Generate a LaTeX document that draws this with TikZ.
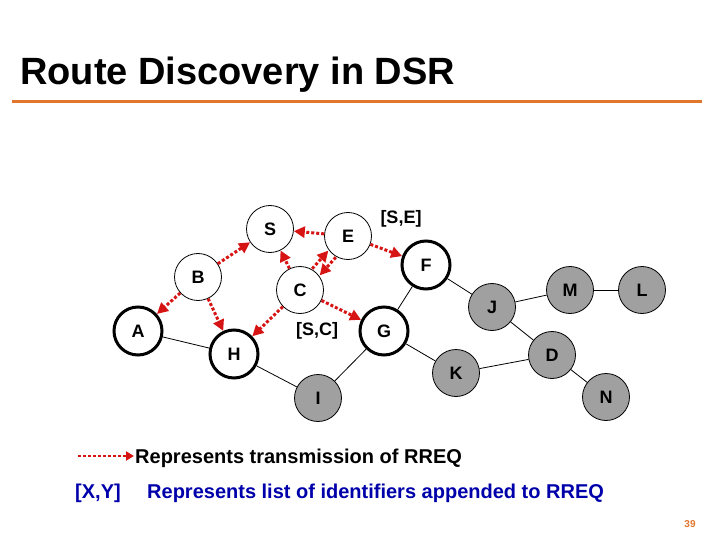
\documentclass[tikz,border=0pt]{standalone}
\usepackage{fontspec}
\setmainfont{Liberation Sans}
\usetikzlibrary{arrows.meta,calc}
\definecolor{reqred}{RGB}{215,20,20}
\definecolor{ruleorange}{RGB}{225,118,45}
\definecolor{legblue}{RGB}{0,0,170}
\definecolor{nodegrey}{RGB}{160,160,160}
\begin{document}
\begin{tikzpicture}[x=1pt,y=-1pt,
  plainnode/.style={circle,draw=black,line width=0.8pt,minimum size=47pt,inner sep=0pt,fill=white,
     font=\bfseries\fontsize{18}{18}\selectfont},
  boldnode/.style={plainnode,line width=3pt,minimum size=48pt},
  greynode/.style={plainnode,fill=nodegrey},
  link/.style={draw=black,line width=0.8pt},
  req/.style={draw=reqred,line width=3pt,dash pattern=on 3pt off 2pt,
     -{Triangle[length=11pt,width=11pt,fill=reqred]}},
  lbl/.style={font=\bfseries\fontsize{18}{18}\selectfont,inner sep=0pt},
  legend/.style={font=\bfseries\fontsize{20}{20}\selectfont,inner sep=0pt,anchor=base west}]
\useasboundingbox (0,0) rectangle (720,540);
% title
\node[anchor=base west,inner sep=0pt,font=\bfseries\fontsize{38}{38}\selectfont] (title) at (20,85) {Route Discovery in DSR};
\coordinate (ruleL) at (12,102);
\coordinate (ruleR) at (702,102);
\draw[ruleorange,line width=3pt] (ruleL) -- (ruleR);
% nodes
\node[plainnode] (S) at (270,229) {S};
\node[plainnode] (E) at (348,236) {E};
\node[plainnode] (B) at (198,277) {B};
\node[plainnode] (C) at (300,290) {C};
\node[boldnode] (A) at (138,331) {A};
\node[boldnode] (H) at (234,354) {H};
\node[boldnode] (G) at (384,331) {G};
\node[boldnode] (F) at (426,265) {F};
\node[greynode] (I) at (318,398) {I};
\node[greynode] (K) at (456,373) {K};
\node[greynode] (J) at (492,307) {J};
\node[greynode] (D) at (552,355) {D};
\node[greynode] (M) at (570,290) {M};
\node[greynode] (L) at (642,290) {L};
\node[greynode] (N) at (606,397) {N};
% labels
\node[lbl] (lSE) at (401,219) {[S,E]};
\node[lbl] (lSC) at (317,331) {[S,C]};
% links
\draw[link] (A) -- (H);
\draw[link] (H) -- (I);
\draw[link] (I) -- (G);
\draw[link] (G) -- (F);
\draw[link] (G) -- (K);
\draw[link] (F) -- (J);
\draw[link] (J) -- (M);
\draw[link] (M) -- (L);
\draw[link] (J) -- (D);
\draw[link] (K) -- (D);
\draw[link] (D) -- (N);
% RREQ transmissions
\draw[req] (E) -- (S);
\draw[req] (B) -- (S);
\draw[req] (C) -- (S);
\draw[req] (B) -- (A);
\draw[req] (B) -- (H);
\draw[req] (C) -- (H);
\draw[req] (C) -- (G);
\draw[req] (E) -- (F);
\coordinate (ec1) at ($(E)!24pt!(C)!5pt!90:(C)$);
\coordinate (ec2) at ($(C)!24pt!(E)!5pt!-90:(E)$);
\draw[req] (ec1) -- (ec2);
\coordinate (ce1) at ($(C)!24pt!(E)!5pt!90:(E)$);
\coordinate (ce2) at ($(E)!24pt!(C)!5pt!-90:(C)$);
\draw[req] (ce1) -- (ce2);
% legend
\coordinate (legA) at (78,456);
\coordinate (legB) at (134,456);
\draw[req,line width=2.5pt,-{Triangle[length=8pt,width=9pt,fill=reqred]}] (legA) -- (legB);
\node[legend] (leg1) at (135,463) {Represents transmission of RREQ};
\node[legend,text=legblue] (legXY) at (75,498) {[X,Y]};
\node[legend,text=legblue] (leg2) at (147,498) {Represents list of identifiers appended to RREQ};
% page number
\node[inner sep=0pt,text=ruleorange,font=\bfseries\fontsize{10}{10}\selectfont] (page) at (690,524) {39};
\end{tikzpicture}
\end{document}
